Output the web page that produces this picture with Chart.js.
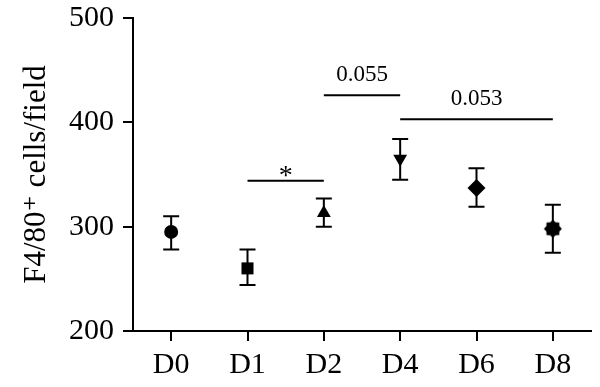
<!DOCTYPE html>
<html>
<head>
<meta charset="utf-8">
<script src="https://cdn.jsdelivr.net/npm/chart.js@4.4.0/dist/chart.umd.min.js"></script>
<style>
  html, body { margin: 0; padding: 0; background: #fff; }
  #wrap { width: 600px; height: 387px; }
</style>
</head>
<body>
<div id="wrap"><canvas id="chart" width="600" height="387"></canvas></div>
<script>
// groups and values (mean with error bar ends)
const days = ['D0', 'D1', 'D2', 'D4', 'D6', 'D8'];
const meanVals = [295, 260, 313, 365, 337, 298];
const upperVals = [310, 278, 327, 384, 356, 321];
const lowerVals = [278, 244, 300, 345, 319, 275];

// significance brackets (from group index, to group index, y value, label)
const bracketFrom = [1, 2, 3];
const bracketTo = [2, 3, 5];
const bracketY = [344, 426, 403];
const bracketLabel = ['*', '0.055', '0.053'];

const serif = "'Liberation Serif', 'DejaVu Serif', serif";

// filled star-ish symbol for the last group
function makeStar() {
    const c = document.createElement('canvas');
    c.width = 20; c.height = 20;
    const g = c.getContext('2d');
    g.fillStyle = '#000';
    g.beginPath();
    for (let i = 0; i < 16; i++) {
        const r = i % 2 === 0 ? 9 : 7;
        const a = i * Math.PI / 8 - Math.PI / 2;
        const px = 10 + r * Math.cos(a), py = 10 + r * Math.sin(a);
        if (i === 0) g.moveTo(px, py); else g.lineTo(px, py);
    }
    g.closePath();
    g.fill();
    return c;
}

const errorBars = {
    id: 'errorBars',
    beforeDatasetsDraw(chart) {
        const ctx = chart.ctx;
        const xs = chart.scales.x, ys = chart.scales.y;
        ctx.save();
        ctx.strokeStyle = '#000';
        ctx.lineWidth = 2;
        meanVals.forEach((m, i) => {
            const x = xs.getPixelForValue(i);
            const yTop = ys.getPixelForValue(upperVals[i]);
            const yBot = ys.getPixelForValue(lowerVals[i]);
            ctx.beginPath();
            ctx.moveTo(x, yTop); ctx.lineTo(x, yBot);
            ctx.moveTo(x - 8, yTop); ctx.lineTo(x + 8, yTop);
            ctx.moveTo(x - 8, yBot); ctx.lineTo(x + 8, yBot);
            ctx.stroke();
        });
        ctx.restore();
    }
};

const brackets = {
    id: 'brackets',
    afterDraw(chart) {
        const ctx = chart.ctx;
        const xs = chart.scales.x, ys = chart.scales.y;
        ctx.save();
        ctx.strokeStyle = '#000';
        ctx.fillStyle = '#000';
        ctx.lineWidth = 2;
        ctx.textAlign = 'center';
        ctx.textBaseline = 'alphabetic';
        bracketLabel.forEach((lab, i) => {
            const x1 = xs.getPixelForValue(bracketFrom[i]);
            const x2 = xs.getPixelForValue(bracketTo[i]);
            const y = ys.getPixelForValue(bracketY[i]);
            ctx.beginPath();
            ctx.moveTo(x1, y); ctx.lineTo(x2, y);
            ctx.stroke();
            if (lab === '*') {
                ctx.font = '28px ' + serif;
                ctx.fillText(lab, (x1 + x2) / 2, y + 3);
            } else {
                ctx.font = '23px ' + serif;
                ctx.fillText(lab, (x1 + x2) / 2, y - 14);
            }
        });
        ctx.restore();
    }
};

new Chart(document.getElementById('chart'), {
    type: 'line',
    data: {
        labels: days,
        datasets: [{
            data: meanVals,
            showLine: false,
            backgroundColor: '#000',
            borderColor: '#000',
            pointStyle: ['circle', 'rect', 'triangle', 'triangle', 'rectRot', makeStar()],
            pointRotation: [0, 0, 0, 180, 0, 0],
            pointRadius: [7, 8.5, 8, 8, 9, 9],
            pointBorderWidth: 0
        }]
    },
    options: {
        responsive: false,
        animation: false,
        events: [],
        layout: { padding: { top: 18, right: 2, left: 0, bottom: 0 } },
        plugins: {
            legend: { display: false },
            tooltip: { enabled: false }
        },
        scales: {
            x: {
                type: 'category',
                offset: true,
                border: { color: '#000', width: 2 },
                grid: { drawOnChartArea: false, drawTicks: true, tickLength: 10, color: '#000', lineWidth: 2, offset: false },
                ticks: { color: '#000', font: { family: serif, size: 30 }, padding: 6, maxRotation: 0 },
                afterFit: (s) => { s.height = 56; }
            },
            y: {
                min: 200,
                max: 500,
                border: { color: '#000', width: 2 },
                grid: { drawOnChartArea: false, drawTicks: true, tickLength: 10, color: '#000', lineWidth: 2 },
                ticks: { stepSize: 100, color: '#000', font: { family: serif, size: 30 }, padding: 9 },
                title: {
                    display: true,
                    text: 'F4/80\u207A cells/field',
                    color: '#000',
                    font: { family: serif, size: 31 },
                    padding: { top: 18, bottom: 0 }
                },
                afterFit: (s) => { s.width = 133; s.paddingTop = 0; s.paddingBottom = 0; }
            }
        }
    },
    plugins: [errorBars, brackets]
});
</script>
</body>
</html>
